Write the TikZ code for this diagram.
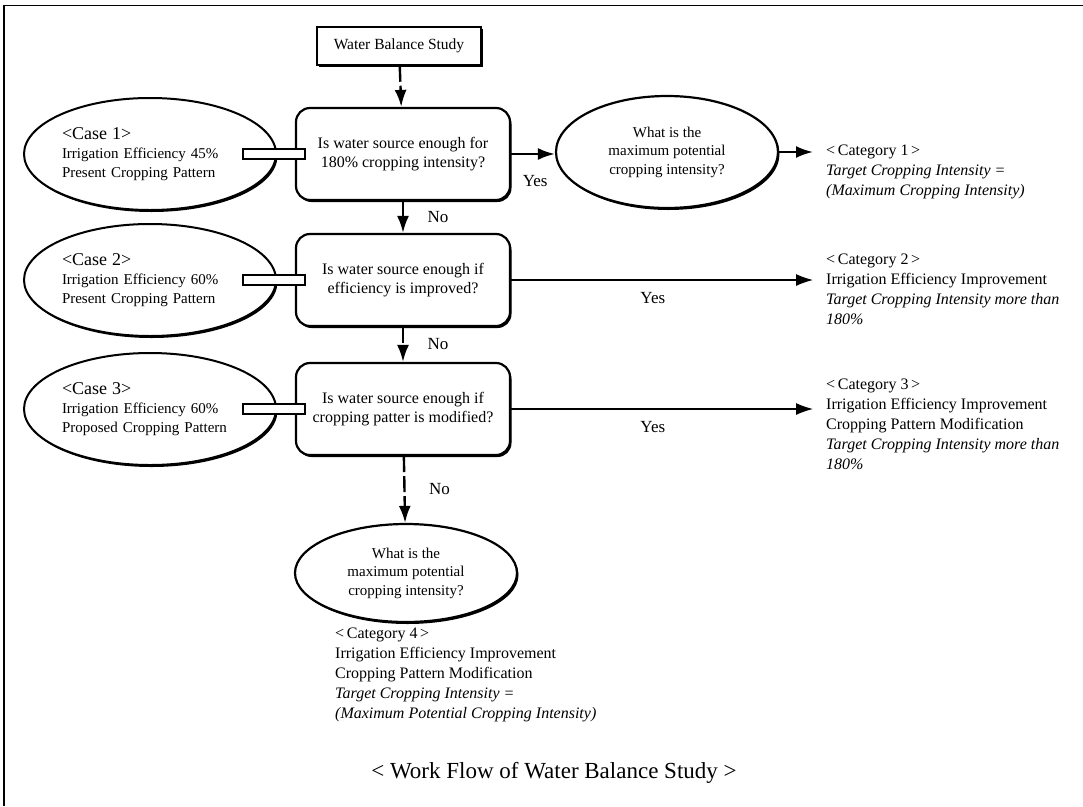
\documentclass[tikz,border=0pt]{standalone}
\usepackage{fontspec}
\setmainfont{Liberation Serif}
\usepackage{tikz}
\usetikzlibrary{arrows.meta,shapes,positioning,shadows}
\tikzstyle{arrow} = [line width=2.4pt,-{Latex[length=17pt,width=12pt]}]
\tikzstyle{thinarrow} = [line width=1.2pt,-{Latex[length=17pt,width=12pt]}]
\tikzstyle{heavy} = [drop shadow={shadow xshift=1.5pt, shadow yshift=-2pt, fill=black, opacity=1}]

\begin{document}
\begin{tikzpicture}[x=1pt, y=-1pt,
    startnode/.style={rectangle, draw, line width=1.5pt, fill=white, heavy, minimum width=164pt, minimum height=38pt, font=\fontsize{15.5}{18}\selectfont},
    casenode/.style={ellipse, draw, line width=2pt, fill=white, heavy, text width=176pt, inner sep=1pt, minimum width=252pt, minimum height=112pt, align=left, font=\fontsize{15}{19}\selectfont},
    question/.style={rectangle, rounded corners=14pt, draw, line width=2.2pt, fill=white, heavy, minimum width=214pt, minimum height=92pt, align=center, font=\fontsize{16}{19.5}\selectfont},
    maxnode/.style={ellipse, draw, line width=2.2pt, fill=white, heavy, minimum width=222pt, align=center, font=\fontsize{15}{18.5}\selectfont},
    category/.style={align=left, inner sep=0pt, anchor=north west, font=\fontsize{16}{20}\selectfont},
    pipe/.style={draw, line width=1.8pt, fill=white},
    vlink/.style={arrow, dash pattern=on 16pt off 4pt},
    answer/.style={font=\fontsize{17}{17}\selectfont}]

\useasboundingbox (0,0) rectangle (1083,806);

% Page frame
\draw[line width=0.8pt] (4,5) -- (1083,5);
\draw[line width=2.5pt] (4,5) -- (4,806);

% Start
\node[startnode] (study) at (399,46) {Water Balance Study};

% Questions
\node[question] (q1) at (403,154) {Is water source enough for\\180\% cropping intensity?};
\node[question] (q2) at (403,280) {Is water source enough if\\efficiency is improved?};
\node[question] (q3) at (403,409) {Is water source enough if\\cropping patter is modified?};

% Cases
\node[casenode] (case1) at (150,154) {{\fontsize{18}{19}\selectfont <Case 1>}\\Irrigation Efficiency 45\%\\Present Cropping Pattern};
\node[casenode] (case2) at (150,280) {{\fontsize{18}{19}\selectfont <Case 2>}\\Irrigation Efficiency 60\%\\Present Cropping Pattern};
\node[casenode] (case3) at (150,409) {{\fontsize{18}{19}\selectfont <Case 3>}\\Irrigation Efficiency 60\%\\Proposed Cropping Pattern};

% Maximum intensity
\node[maxnode, minimum height=112pt] (max1) at (667,152) {What is the\\maximum potential\\cropping intensity?};
\node[maxnode, minimum height=98pt] (max2) at (406,573) {What is the\\maximum potential\\cropping intensity?};

% Categories
\node[category] (cat1) at (826,145) {<\,Category 1\,>\\\textit{Target Cropping Intensity =}\\\textit{(Maximum Cropping Intensity)}};
\node[category] (cat2) at (826,254) {<\,Category 2\,>\\Irrigation Efficiency Improvement\\\textit{Target Cropping Intensity more than}\\\textit{180\%}};
\node[category] (cat3) at (826,379) {<\,Category 3\,>\\Irrigation Efficiency Improvement\\Cropping Pattern Modification\\\textit{Target Cropping Intensity more than}\\\textit{180\%}};
\node[category] (cat4) at (335,628) {<\,Category 4\,>\\Irrigation Efficiency Improvement\\Cropping Pattern Modification\\\textit{Target Cropping Intensity =}\\\textit{(Maximum Potential Cropping Intensity)}};

% Caption
\node[font=\fontsize{23}{23}\selectfont] (caption) at (554,773) {<\ Work Flow of Water Balance Study\ >};

% Case links
\draw[pipe] ([xshift=-34pt,yshift=5pt]case1.east) rectangle ([xshift=10pt,yshift=-5pt]q1.west);
\draw[pipe] ([xshift=-34pt,yshift=5pt]case2.east) rectangle ([xshift=10pt,yshift=-5pt]q2.west);
\draw[pipe] ([xshift=-34pt,yshift=5pt]case3.east) rectangle ([xshift=10pt,yshift=-5pt]q3.west);

% Flow
\draw[vlink] (study) -- (q1);
\draw[vlink] (q1) -- node[answer, right=20pt] {No} (q2);
\draw[vlink] (q2) -- node[answer, right=20pt] {No} (q3);
\draw[vlink] (q3) -- node[answer, right=20pt] {No} (max2);

\draw[arrow] (q1.east) -- node[answer, below=17pt, pos=0.55] {Yes} (q1.east -| max1.west);
\draw[arrow, shorten >=13pt] (max1.east) -- (max1.east -| cat1.west);
\draw[thinarrow, shorten >=13pt] (q2.east) -- node[answer, below=8pt, pos=0.45] {Yes} (q2.east -| cat2.west);
\draw[thinarrow, shorten >=13pt] (q3.east) -- node[answer, below=8pt, pos=0.45] {Yes} (q3.east -| cat3.west);
\end{tikzpicture}
\end{document}
